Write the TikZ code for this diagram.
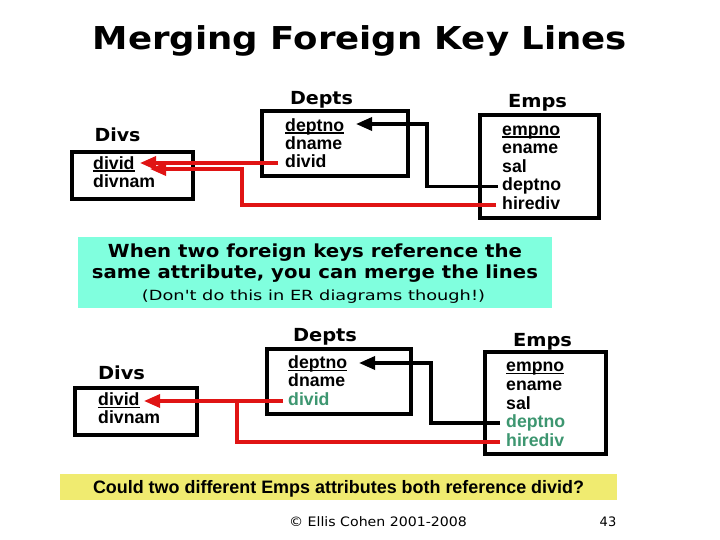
\documentclass[tikz,border=0pt]{standalone}
\usepackage{fontspec}
\usepackage{graphicx}
\usetikzlibrary{arrows.meta}
\newfontfamily\vfont{DejaVu Sans}
\newfontfamily\afont{Liberation Sans}
\definecolor{fkred}{RGB}{224,20,20}
\definecolor{fkgreen}{RGB}{61,150,112}
\definecolor{aqua}{RGB}{128,255,222}
\definecolor{lemon}{RGB}{240,235,112}
\newcommand\fitto[2]{\resizebox{#1}{\height}{#2}}
\newcommand\ulk[1]{\setbox0\hbox{#1}\rlap{\rule[-2.6pt]{\wd0}{1.6pt}}\box0}
\tikzset{
  tbl/.style={draw=black, line width=3.3pt, inner sep=0pt},
  attr/.style={anchor=west, inner sep=0pt, text height=9pt, text depth=0pt,
    font=\afont\bfseries\fontsize{17.7}{20}\selectfont},
  fk/.style={attr, text=fkgreen},
  ttl/.style={anchor=base, inner sep=0pt, font=\vfont\bfseries\fontsize{31.5}{36}\selectfont},
  lbl/.style={anchor=base, inner sep=0pt, font=\vfont\bfseries\fontsize{18}{22}\selectfont},
  note/.style={anchor=base, inner sep=0pt, font=\vfont\bfseries\fontsize{18}{22}\selectfont},
  subnote/.style={anchor=base, inner sep=0pt, font=\vfont\fontsize{14}{17}\selectfont},
  ask/.style={anchor=base, inner sep=0pt, font=\afont\bfseries\fontsize{18}{22}\selectfont},
  foot/.style={anchor=base, inner sep=0pt, font=\vfont\fontsize{13}{16}\selectfont},
  redarr/.style={draw=fkred, line width=3.3pt, -{Triangle[length=16pt,width=13pt]}},
  redln/.style={draw=fkred, line width=3.3pt},
  blkarr/.style={draw=black, line width=3.3pt, -{Triangle[length=16pt,width=13pt]}}
}
\begin{document}
\begin{tikzpicture}[x=1pt, y=-1pt]
\useasboundingbox (0,0) rectangle (720,540);
\fill[white] (0,0) rectangle (720,540);

% title
\node[ttl] (title) at (360,50) {\fitto{534pt}{Merging Foreign Key Lines}};

% ---------- top section ----------
\node[lbl] (lDeptsA) at (321.5,105) {\fitto{63pt}{Depts}};
\node[lbl] (lEmpsA) at (537.5,108) {\fitto{59pt}{Emps}};
\node[lbl] (lDivsA) at (117.5,142) {\fitto{46pt}{Divs}};

\node[tbl, minimum width=146pt, minimum height=65pt] (bDeptsA) at (335,143.5) {};
\node[tbl, minimum width=119pt, minimum height=103pt] (bEmpsA) at (539.5,166.5) {};
\node[tbl, minimum width=121pt, minimum height=47pt] (bDivsA) at (132.5,175.5) {};

\node[attr] (dDeptnoA) at (285,127) {\ulk{deptno}};
\node[attr] (dDnameA) at (285,145) {dname};
\node[attr] (dDividA) at (285,163) {divid};

\node[attr] (eEmpnoA) at (502,131) {\ulk{empno}};
\node[attr] (eEnameA) at (502,149.5) {ename};
\node[attr] (eSalA) at (502,168) {sal};
\node[attr] (eDeptnoA) at (502,186.5) {deptno};
\node[attr] (eHiredivA) at (502,205) {hirediv};

\node[attr] (vDividA) at (93,165) {\ulk{divid}};
\node[attr] (vDivnamA) at (93,183) {divnam};

\coordinate (cA1) at (427,124);
\coordinate (tipA1) at (356,124);
\coordinate (tipA2) at (140,163);
\coordinate (cA2) at (242,169);
\coordinate (tipA3) at (150,169);

\draw[blkarr] ([xshift=-4pt]eDeptnoA.west) -| (cA1) -- (tipA1);
\draw[redarr] ([xshift=-7pt]dDividA.west) -- (tipA2);
\draw[redarr] ([xshift=-6pt]eHiredivA.west) -| (cA2) -- (tipA3);

% ---------- middle note ----------
\node[fill=aqua, inner sep=0pt, minimum width=474pt, minimum height=71pt] (noteBox) at (315,272.5) {};
\node[note] (note1) at (315,257) {\fitto{414pt}{When two foreign keys reference the}};
\node[note] (note2) at (315,278) {\fitto{446pt}{same attribute, you can merge the lines}};
\node[subnote] (note3) at (313.5,300) {\fitto{343pt}{(Don't do this in ER diagrams though!)}};

% ---------- bottom section ----------
\node[lbl] (lDeptsB) at (325,341) {\fitto{64pt}{Depts}};
\node[lbl] (lEmpsB) at (542.5,346) {\fitto{59pt}{Emps}};
\node[lbl] (lDivsB) at (121.5,379) {\fitto{47pt}{Divs}};

\node[tbl, minimum width=144pt, minimum height=65pt] (bDeptsB) at (339,381.5) {};
\node[tbl, minimum width=121pt, minimum height=102pt] (bEmpsB) at (545.5,403) {};
\node[tbl, minimum width=122pt, minimum height=47pt] (bDivsB) at (136,411.5) {};

\node[attr] (dDeptnoB) at (288,364) {\ulk{deptno}};
\node[attr] (dDnameB) at (288,382) {dname};
\node[fk] (dDividB) at (288,401) {divid};

\node[attr] (eEmpnoB) at (506,367) {\ulk{empno}};
\node[attr] (eEnameB) at (506,386) {ename};
\node[attr] (eSalB) at (506,404.5) {sal};
\node[fk] (eDeptnoB) at (506,423) {deptno};
\node[fk] (eHiredivB) at (506,442) {hirediv};

\node[attr] (vDividB) at (98,401) {\ulk{divid}};
\node[attr] (vDivnamB) at (98,419) {divnam};

\coordinate (cB1) at (431,363);
\coordinate (tipB1) at (359,363);
\coordinate (tipB2) at (144,401);
\coordinate (cB2) at (237,401);

\draw[blkarr] ([xshift=-6pt]eDeptnoB.west) -| (cB1) -- (tipB1);
\draw[redarr] ([xshift=-5pt]dDividB.west) -- (tipB2);
\draw[redln] ([xshift=-6pt]eHiredivB.west) -| (cB2);

% ---------- question ----------
\node[fill=lemon, inner sep=0pt, minimum width=557pt, minimum height=26pt] (askBox) at (338.5,487) {};
\node[ask] (askText) at (338.5,493) {\fitto{491pt}{Could two different Emps attributes both reference divid?}};

% ---------- footer ----------
\node[foot] (copy) at (378,526) {\fitto{178pt}{© Ellis Cohen 2001-2008}};
\node[foot] (page) at (608,526) {43};
\end{tikzpicture}
\end{document}
